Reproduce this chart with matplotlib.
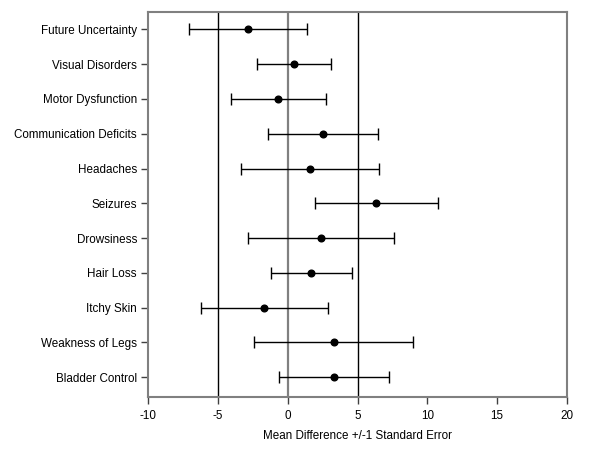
import numpy as np
import matplotlib
matplotlib.use('Agg')
import matplotlib.pyplot as plt

plt.rcParams['font.family'] = ['Liberation Sans', 'DejaVu Sans']

# Symptoms (top to bottom), means and standard errors
symptoms = ['Future Uncertainty', 'Visual Disorders', 'Motor Dysfunction',
            'Communication Deficits', 'Headaches', 'Seizures', 'Drowsiness',
            'Hair Loss', 'Itchy Skin', 'Weakness of Legs', 'Bladder Control']
mean_diff = [-2.85, 0.42, -0.69, 2.52, 1.6, 6.33, 2.4, 1.68, -1.68, 3.31, 3.31]
std_err = [4.24, 2.65, 3.4, 3.92, 4.93, 4.4, 5.23, 2.9, 4.55, 5.69, 3.92]
ref_lines = [-5, 0, 5]
ref_colors = ['black', '#808080', 'black']
x_ticks = [-10, -5, 0, 5, 10, 15, 20]

fig = plt.figure(figsize=(6.0, 4.63), dpi=100)
ax = fig.add_axes([0.2467, 0.1425, 0.6983, 0.8315])

# reference lines
for xv, c in zip(ref_lines, ref_colors):
    ax.axvline(xv, color=c, linewidth=1.0 if c == 'black' else 1.6, zorder=1)

ypos = np.arange(len(symptoms))
ax.errorbar(mean_diff, ypos, xerr=std_err, fmt='o', color='black',
            markersize=4.8, elinewidth=1, capsize=4, capthick=1, zorder=3)

ax.set_xlim(-10, 20)
ax.set_ylim(10.57, -0.5)
ax.set_xticks(x_ticks)
ax.set_xticklabels([str(t) for t in x_ticks], fontsize=8.4)
ax.set_yticks(ypos)
ax.set_yticklabels(symptoms, fontsize=8.4)
ax.set_xlabel('Mean Difference +/-1 Standard Error', fontsize=8.4, labelpad=6)

for s in ax.spines.values():
    s.set_color('#808080')
    s.set_linewidth(1.5)
ax.tick_params(axis='both', direction='out', length=5, width=1,
               color='#404040', pad=3)
ax.tick_params(axis='x', pad=4)

fig.savefig('out.png', dpi=100)
